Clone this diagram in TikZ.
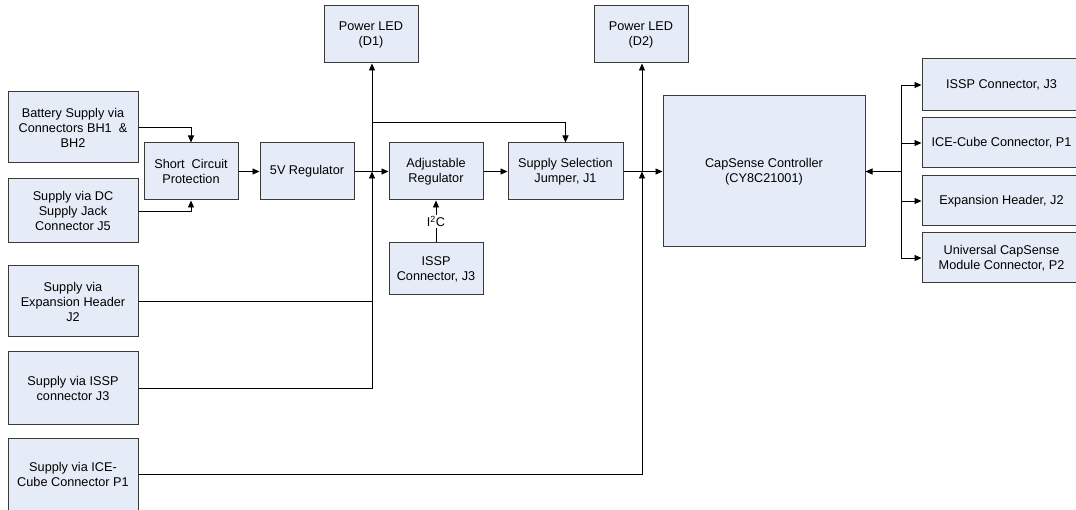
\documentclass[tikz,border=0pt]{standalone}
\usepackage{fontspec}
\setmainfont{Liberation Sans}
\usetikzlibrary{arrows.meta}
\definecolor{boxfill}{HTML}{E6ECF7}
\definecolor{boxline}{HTML}{3A3A3A}
\begin{document}
\begin{tikzpicture}[x=1pt,y=-1pt,
  blk/.style={draw=boxline,fill=boxfill,line width=1pt,align=center,inner sep=0pt,
    font=\fontsize{12.7}{15}\selectfont},
  arr/.style={-{Triangle[length=7pt,width=6pt]}},
  wire/.style={line width=0.9pt,draw=black}]
\useasboundingbox (0,0) rectangle (1076,510);

% left supply boxes
\node[blk,minimum width=130pt,minimum height=71pt] (bat) at (73,127.5) {Battery Supply via\\Connectors BH1\ \ \&\\BH2};
\node[blk,minimum width=130pt,minimum height=64pt] (dc) at (73,211) {Supply via DC\\Supply Jack\\Connector J5};
\node[blk,minimum width=130pt,minimum height=71pt] (expsup) at (73,301.5) {Supply via\\Expansion Header\\J2};
\node[blk,minimum width=130pt,minimum height=72pt] (isspsup) at (73,388) {Supply via ISSP\\connector J3};
\node[blk,minimum width=130pt,minimum height=72pt] (icesup) at (73,474) {Supply via ICE-\\Cube Connector P1};

% chain
\node[blk,minimum width=94pt,minimum height=57pt] (sc) at (191,171.5) {Short\ \ Circuit\\Protection};
\node[blk,minimum width=94pt,minimum height=57pt] (reg) at (307,171.5) {5V Regulator};
\node[blk,minimum width=94pt,minimum height=57pt] (adj) at (436,171.5) {Adjustable\\Regulator};
\node[blk,minimum width=115pt,minimum height=57pt] (sel) at (565.5,171.5) {Supply Selection\\Jumper, J1};
\node[blk,minimum width=94pt,minimum height=52pt] (isspm) at (436,269) {ISSP\\Connector, J3};

\node[blk,minimum width=94pt,minimum height=57pt] (d1) at (371,34.5) {Power LED\\(D1)};
\node[blk,minimum width=94pt,minimum height=57pt] (d2) at (641,34.5) {Power LED\\(D2)};

\node[blk,minimum width=202pt,minimum height=151pt] (cap) at (764,171.5) {CapSense Controller\\(CY8C21001)};

% right boxes (extend past the right edge, as in the reference)
\node[blk,minimum width=159pt,minimum height=52pt] (r1) at (1001.5,85) {ISSP Connector, J3};
\node[blk,minimum width=159pt,minimum height=50pt] (r2) at (1001.5,143) {ICE-Cube Connector, P1};
\node[blk,minimum width=159pt,minimum height=50pt] (r3) at (1001.5,201) {Expansion Header, J2};
\node[blk,minimum width=159pt,minimum height=50pt] (r4) at (1001.5,258) {Universal CapSense\\Module Connector, P2};

% junction coordinates
\coordinate (J1) at (372,171.5);
\coordinate (T1) at (372,122);
\coordinate (J2) at (642,171.5);
\coordinate (R) at (901,171.5);

% connectors
\draw[wire,arr] (bat.east) -| (sc.north);
\draw[wire,arr] (dc.east) -| (sc.south);
\draw[wire,arr] (sc.east) -- (reg.west);
\draw[wire] (reg.east) -- (J1);
\draw[wire,arr] (J1) -- (adj.west);
\draw[wire] (expsup.east) -- (expsup.east -| J1);
\draw[wire,arr] (isspsup.east) -| (J1);
\draw[wire,arr] (J1) -- (J1 |- d1.south);
\draw[wire,arr] (T1) -| (sel.north);
\draw[wire,arr] (adj.east) -- (sel.west);
\draw[wire,arr] (isspm.north) -- node[fill=white,inner sep=1.5pt,font=\fontsize{12.7}{15}\selectfont] {I\textsuperscript{2}C} (adj.south);
\draw[wire] (sel.east) -- (J2);
\draw[wire,arr] (J2) -- (cap.west);
\draw[wire,arr] (icesup.east) -| (J2);
\draw[wire,arr] (J2) -- (J2 |- d2.south);

\draw[wire,arr] (R) -- (cap.east);
\draw[wire] (r1.west -| R) -- (r4.west -| R);
\draw[wire,arr] (r1.west -| R) -- (r1.west);
\draw[wire,arr] (r2.west -| R) -- (r2.west);
\draw[wire,arr] (r3.west -| R) -- (r3.west);
\draw[wire,arr] (r4.west -| R) -- (r4.west);
\end{tikzpicture}
\end{document}
